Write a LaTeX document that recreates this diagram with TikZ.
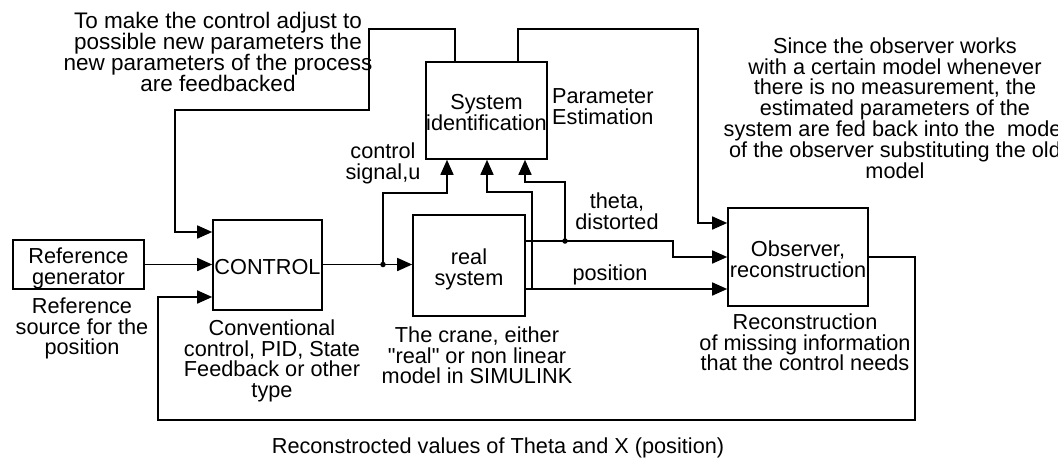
\documentclass[tikz,border=0pt]{standalone}
\usepackage{fontspec}
\setmainfont{Liberation Sans}
\usetikzlibrary{arrows.meta}
% strut that fixes the height of the first line of a text block
\newcommand\capline{\rule{0pt}{16pt}}
% struts that place the text inside the block boxes
\newcommand\boxhead{\rule{0pt}{24pt}}
\newcommand\boxfoot{\rule[-4.5pt]{0pt}{0pt}}
\begin{document}
\begin{tikzpicture}[x=1pt,y=-1pt,
  every node/.style={font=\fontsize{21.7pt}{20.8pt}\selectfont},
  blk/.style={draw, line width=1.6pt, inner sep=0pt, align=center},
  note/.style={inner sep=0pt, align=center, anchor=north},
  sig/.style={line width=1.6pt, -{Triangle[length=15pt,width=13pt]}},
  wire/.style={line width=1.6pt},
  dot/.style={circle, fill, inner sep=0pt, minimum size=5.5pt}]
\path[use as bounding box, clip] (0,0) rectangle (1058,458);
\fill[white] (0,0) rectangle (1058,458);

% blocks
\node[blk, minimum width=131pt, minimum height=49pt] (ref) at (78.5,264.5) {\boxhead Reference\\generator\boxfoot};
\node[blk, minimum width=109pt, minimum height=90pt] (ctrl) at (267.5,265) {\boxhead CONTROL\boxfoot};
\node[blk, minimum width=112pt, minimum height=101pt] (real) at (469,265.5) {\boxhead real\\system\boxfoot};
\node[blk, minimum width=121pt, minimum height=97pt] (sysid) at (486.5,110.5) {\boxhead System\\identification\boxfoot};
\node[blk, minimum width=140pt, minimum height=98pt] (obs) at (798,257) {\boxhead Observer,\\reconstruction\boxfoot};

% junctions and bends
\node[dot] (jc) at (383,264.5) {};
\node[dot] (jt) at (565,241) {};
\coordinate (th0) at ([yshift=24.5pt]real.east);
\coordinate (ps0) at ([yshift=-23.5pt]real.east);
\coordinate (tk) at (673,241);
\coordinate (u1) at (447,193);
\coordinate (t2) at (525,182);
\coordinate (p1) at (532,289);
\coordinate (p2) at (487,192);
\coordinate (a1) at (455,29);
\coordinate (a2) at (369,110);
\coordinate (a3) at (175,232);
\coordinate (b1) at (518,29);
\coordinate (b2) at (698,223);
\coordinate (c1) at (915,420);
\coordinate (c2) at (158,297);

% forward path
\draw[sig] (ref.east) -- (ref.east -| ctrl.west);
\draw[wire] (ctrl.east |- jc) -- (jc.center);
\draw[sig] (jc.center) -- (jc -| real.west);
\draw[wire] (th0) -- (jt.center);
\draw[sig] (jt.center) -- (tk) |- (obs.west);
\draw[sig] (ps0) -- (ps0 -| obs.west);

% inputs of the identification block
\draw[sig] (jc.center) |- (u1) -- (u1 |- sysid.south);
\draw[sig] (p1) |- (p2) -- (p2 |- sysid.south);
\draw[sig] (jt.center) |- (t2) -- (t2 |- sysid.south);

% estimated parameters fed back
\draw[sig] (a1 |- sysid.north) -- (a1) -| (a2) -| (a3) -- (a3 -| ctrl.west);
\draw[sig] (b1 |- sysid.north) -- (b1) -| (b2) -- (b2 -| obs.west);

% reconstructed states fed back
\draw[sig] (obs.east) -| (c1) -| (c2) -- (c2 -| ctrl.west);

% annotations
\node[note, font=\fontsize{22.5pt}{21pt}\selectfont] (n1) at (218,12) {\capline To make the control adjust to\\possible new parameters the\\new parameters of the process\\are feedbacked};
\node[note] (n2) at (895,37) {\capline Since the observer works\\with a certain model whenever\\there is no measurement, the\\estimated parameters of the\\system are fed back into the\ \ model\\of the observer substituting the old\\model};
\node[note, anchor=north west, align=left] (n3) at (552,87) {\capline Parameter\\Estimation};
\node[note] (n4) at (383,142) {\capline control\\signal,u};
\node[note] (n5) at (617,192) {\capline theta,\\distorted};
\node[note] (n6) at (610,264) {\capline position};
\node[note] (n7) at (82,297) {\capline Reference\\source for the\\position};
\node[note] (n8) at (272,319) {\capline Conventional\\control, PID, State\\Feedback or other\\type};
\node[note] (n9) at (477,326) {\capline The crane, either\\\textquotedbl real\textquotedbl{} or non linear\\model in SIMULINK};
\node[note] (n10) at (805,313) {\capline Reconstruction\\of missing information\\that the control needs};
\node[note] (n11) at (498,437) {\capline Reconstrocted values of Theta and X (position)};
\end{tikzpicture}
\end{document}
